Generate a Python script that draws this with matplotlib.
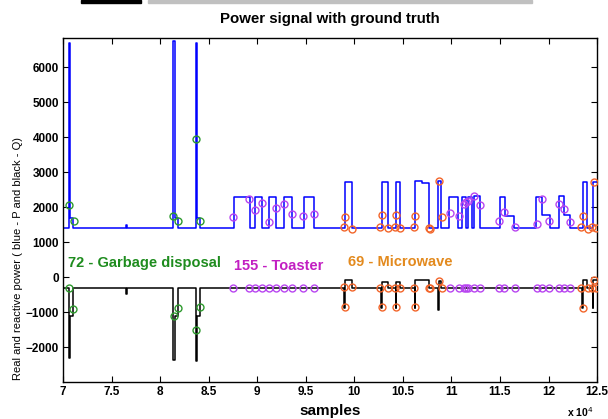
import matplotlib
matplotlib.use("Agg")
import matplotlib.pyplot as plt
from matplotlib.patches import Rectangle
from matplotlib.ticker import FuncFormatter

plt.rcParams['font.family'] = ['Liberation Sans', 'DejaVu Sans']

# step change points (sample index, value after the change)
p_x = [70000, 70618, 70721, 71082, 76510, 76610, 81361, 81536, 81845, 83668, 83750, 84111,
       87613, 89261, 89776, 90497, 91167, 91939, 92763, 93587, 94772, 95853,
       99015, 99736, 102826, 103444, 104299, 104711, 106256, 107000, 107729, 108656, 108934,
       109789, 110716, 111066, 111458, 111685, 112159, 112364, 112982,
       115011, 115526, 116484, 118719, 119337, 120161, 121118, 121633, 122221,
       123529, 124003, 124621, 125000]
p_v = [1400, 6700, 1680, 1400, 1480, 1400, 6750, 1680, 1400, 6690, 1680, 1400,
       2290, 1400, 2290, 1400, 2290, 1400, 2290, 1400, 2290, 1400,
       2720, 1400, 2720, 1400, 2720, 1400, 2740, 2700, 1400, 2730, 1400,
       2290, 1400, 2290, 1400, 2290, 1400, 2310, 1400,
       2295, 1750, 1400, 2280, 1770, 1400, 2310, 1770, 1400,
       2705, 1400, 2720, 2720]

q_x = [70000, 70618, 70721, 71082, 76510, 76610, 81361, 81536, 81845, 83668, 83750, 84111,
       98943, 99015, 99736, 102785, 102850, 103444, 104258, 104320, 104711,
       106215, 106280, 107729, 108600, 108680, 108900,
       123500, 123560, 124003, 124560, 124621, 125000]
q_v = [-300, -2300, -1100, -300, -480, -300, -2370, -1100, -300, -2390, -1100, -300,
       -880, -90, -300, -880, -130, -300, -880, -130, -300,
       -880, -90, -300, -950, -110, -300,
       -890, -86, -300, -890, -80, -80]

# ground truth events
garbage_px = [70649, 71164, 81361, 81845, 83668, 84142]
garbage_p = [2057, 1600, 1740, 1610, 3940, 1600]
garbage_qx = [70649, 71082, 81402, 81814, 83668, 84142]
garbage_q = [-300, -914, -1114, -877, -1506, -857]

toaster_x = [87541, 89158, 89745, 90466, 91187, 91908, 92763, 93556, 94751, 95884,
             109861, 110819, 111272, 111540, 111746, 112364, 112982,
             114908, 115423, 116505, 118791, 119337, 120089, 121118, 121633, 122252]
toaster_p = [1720, 2240, 1920, 2120, 1580, 1960, 2100, 1790, 1740, 1810,
             1840, 1750, 2075, 2130, 2180, 2315, 2070,
             1610, 1865, 1420, 1505, 2230, 1610, 2100, 1940, 1560]
toaster_q = [-300] * len(toaster_x)

micro_x = [98943, 99015, 99736, 102682, 102826, 103444, 104227, 104299, 104711,
           106184, 106256, 107729, 107770, 108697, 109006,
           123354, 123560, 124044, 124518, 124693, 124930]
micro_p = [1420, 1720, 1370, 1440, 1770, 1390, 1440, 1770, 1390,
           1420, 1750, 1390, 1380, 2740, 1710,
           1420, 1750, 1380, 1420, 2715, 1390]
micro_q = [-290, -866, -295, -300, -866, -300, -300, -866, -300,
           -300, -866, -300, -300, -114, -300,
           -300, -877, -300, -300, -86, -300]

fig = plt.figure(figsize=(6.08, 4.19), dpi=100)
ax = fig.add_axes([0.1036, 0.0883, 0.8784, 0.821])

ax.step(p_x, p_v, where='post', color='#0000ff', lw=1.1, zorder=2)
ax.step(q_x, q_v, where='post', color='black', lw=1.1, zorder=2)

mk = dict(ls='none', marker='o', ms=5, mfc='none', mew=1.0, zorder=4)
ax.plot(garbage_px, garbage_p, mec='#2e9a2e', **mk)
ax.plot(garbage_qx, garbage_q, mec='#2e9a2e', **mk)
ax.plot(toaster_x, toaster_p, mec='#b845f0', **mk)
ax.plot(toaster_x, toaster_q, mec='#b845f0', **mk)
ax.plot(micro_x, micro_p, mec='#f2652a', **mk)
ax.plot(micro_x, micro_q, mec='#f2652a', **mk)

ax.text(70500, 400, '72 - Garbage disposal', color='#1e8c1e', fontsize=10.5,
        fontweight='bold', va='center')
ax.text(87660, 315, '155 - Toaster', color='#c21fc2', fontsize=10.5,
        fontweight='bold', va='center')
ax.text(99340, 430, '69 - Microwave', color='#e38a1e', fontsize=10.5,
        fontweight='bold', va='center')

ax.set_xlim(70000, 125000)
ax.set_ylim(-3000, 6830)
ax.set_xticks(range(70000, 125001, 5000))
ax.set_yticks(range(-2000, 6001, 1000))
ax.xaxis.set_major_formatter(FuncFormatter(lambda v, pos: '%g' % (v / 1e4)))
ax.tick_params(direction='in', top=True, right=True, length=4, width=0.8,
               labelsize=8.5, pad=3)
for lab in ax.get_xticklabels() + ax.get_yticklabels():
    lab.set_fontweight('bold')
for s in ax.spines.values():
    s.set_linewidth(1.0)

ax.set_title('Power signal with ground truth', fontsize=10.8, fontweight='bold', pad=11)
ax.set_xlabel('samples', fontsize=11, fontweight='bold', labelpad=4)
fig.text(0.03, 0.382, 'Real and reactive power ( blue - P and black - Q)',
         rotation=90, fontsize=8, ha='center', va='center')
fig.text(0.933, 0.0, r'x 10$^4$', fontsize=7.5, fontweight='bold', ha='left', va='bottom')

# cropped bits of the figure above
fig.patches.append(Rectangle((81 / 608, 1 - 3 / 419), 60 / 608, 3 / 419,
                             transform=fig.transFigure, color='black', zorder=1))
fig.patches.append(Rectangle((148 / 608, 1 - 3 / 419), 384 / 608, 3 / 419,
                             transform=fig.transFigure, color='#c0c0c0', zorder=1))

fig.savefig('out.png', dpi=100)
